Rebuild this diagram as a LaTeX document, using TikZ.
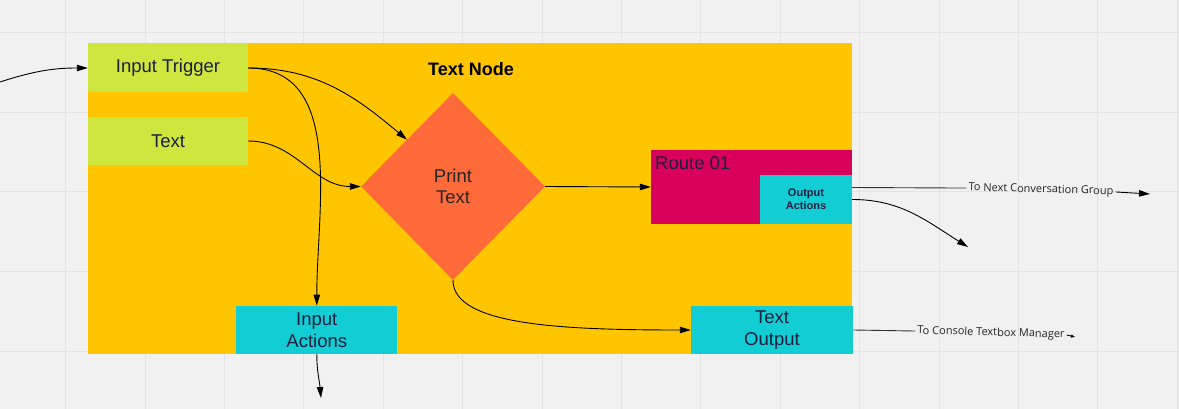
\documentclass[tikz,border=0pt]{standalone}
\usepackage{fontspec}
\setmainfont{Liberation Sans}
\newfontfamily\lblfont{Open Sans}
\usetikzlibrary{shapes.geometric,arrows.meta,calc}
\definecolor{bgc}{HTML}{F1F1F1}
\definecolor{gridc}{HTML}{E3E3E3}
\definecolor{orangec}{HTML}{FFC600}
\definecolor{greenc}{HTML}{CEE63E}
\definecolor{diac}{HTML}{FF6A3B}
\definecolor{routec}{HTML}{D9005C}
\definecolor{cyanc}{HTML}{13CDD4}
\definecolor{inkc}{HTML}{1C1E3E}
\begin{document}
\begin{tikzpicture}[x=1pt,y=-1pt,
  box/.style={draw=none, inner sep=0pt, text=inkc, font=\fontsize{18.5}{21.5}\selectfont, align=center, anchor=center},
  arr/.style={draw=black, line width=0.9pt, -{Triangle[length=11pt,width=6.5pt]}},
  lbl/.style={font=\lblfont\fontsize{11}{13}\selectfont, text=black!85, inner sep=2pt},
  plainline/.style={draw=black!80, line width=0.9pt}
]
\fill[bgc] (0,0) rectangle (1179,409);
\useasboundingbox (0,0) rectangle (1179,409);
\foreach \i in {0,...,14} \draw[gridc, line width=1pt] ({65.6+79.4*\i},0) -- ({65.6+79.4*\i},409);
\foreach \j in {0,...,4} \draw[gridc, line width=1pt] (0,{33+79.5*\j}) -- (1179,{33+79.5*\j});

\node[box, fill=orangec, minimum width=764pt, minimum height=311pt] (frame) at (470,198.7) {};
\node[box, fill=greenc, minimum width=160pt, minimum height=49pt] (trig) at (168,68) {Input Trigger};
\node[box, fill=greenc, minimum width=160pt, minimum height=48pt] (txt) at (168,141) {Text};
\node[box, font=\bfseries\fontsize{18}{21}\selectfont, text=black] (title) at (471,69) {Text Node};
\node[box, diamond, fill=diac, minimum width=184pt, minimum height=187pt, text=black!85] (dia) at (453,186.5) {Print\\Text};
\node[box, fill=routec, minimum width=201pt, minimum height=74pt] (route) at (751.5,187) {};
\node[box, anchor=west] (routetxt) at (655,163.5) {Route 01};
\node[box, fill=cyanc, minimum width=92pt, minimum height=49pt, font=\bfseries\fontsize{11}{13}\selectfont] (outact) at (806,199.5) {Output\\Actions};
\node[box, fill=cyanc, minimum width=161pt, minimum height=48.5pt] (inact) at (316.8,330) {Input\\Actions};
\node[box, fill=cyanc, minimum width=162pt, minimum height=48.5pt] (tout) at (772,330) {Text\\Output};

\coordinate (src) at (0,82);
\draw[arr] (src) to[out=18,in=180] (trig.west);
\draw[arr] (trig.east) to[out=0,in=140] (dia.north west);
\draw[arr] (trig.east) to[out=0,in=90] (inact.north);
\draw[arr] (txt.east) to[out=0,in=180] (dia.west);
\draw[arr] (dia.east) -- (route.west);
\draw[arr] (dia.south) .. controls ($(dia.south)+(0,45)$) and ($(tout.west)+(-130,0)$) .. (tout.west);
\coordinate (inend) at (321,398);
\draw[arr] (inact.south) to[out=-90,in=95] (inend);

\coordinate (oa1) at ($(outact.east)+(0,-12)$);
\node[lbl, rotate=-1.5] (lnext) at (1041,190) {To Next Conversation Group};
\draw[plainline] (oa1) -- (lnext.west);
\coordinate (nextend) at (1150,194);
\draw[arr] (lnext.east) -- (nextend);
\coordinate (oaend) at (968,247);
\draw[arr] (outact.east) to[out=0,in=148] (oaend);

\node[lbl, rotate=-1.5] (lcon) at (991,333) {To Console Textbox Manager};
\draw[plainline] (tout.east) -- (lcon.west);
\coordinate (conend) at (1075,337);
\draw[line width=0.9pt, -{Triangle[length=4pt,width=3pt]}] (lcon.east) -- (conend);
\end{tikzpicture}
\end{document}
